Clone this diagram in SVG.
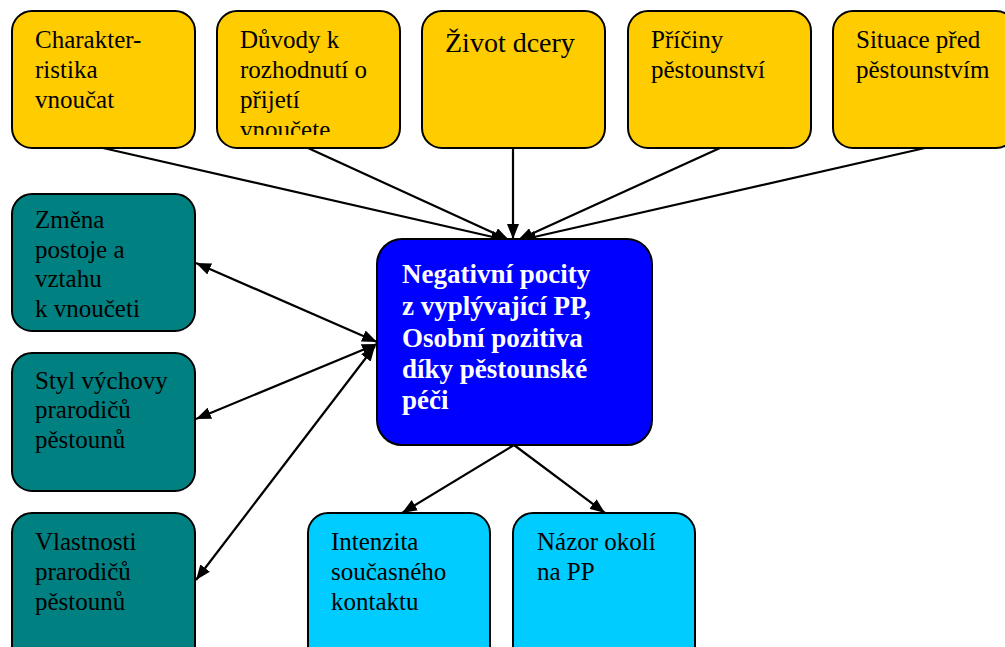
<svg xmlns="http://www.w3.org/2000/svg" width="1005" height="647" viewBox="0 0 1005 647">
<style>
.box{stroke:#000;stroke-width:2}
.y{fill:#FFCC00}
.t{fill:#008080}
.c{fill:#00CCFF}
.b{fill:#0000FF}
.tx{font-family:"Liberation Serif","Times New Roman",serif;font-size:25px;fill:#000}
.big{font-size:28px}
.ct{font-family:"Liberation Serif","Times New Roman",serif;font-size:27px;font-weight:bold;fill:#fff}
.ln{stroke:#000;stroke-width:2.2;fill:none}
</style>
<defs>
<marker id="ah" viewBox="0 0 15 12" refX="15" refY="6" markerWidth="15" markerHeight="12" markerUnits="userSpaceOnUse" orient="auto-start-reverse">
<path d="M0,0 L15,6 L0,12 Z" fill="#000"/>
</marker>
<clipPath id="clip2"><rect x="217" y="11" width="183" height="124"/></clipPath>
<clipPath id="clipL1"><rect x="12" y="194" width="183" height="123"/></clipPath>
</defs>
<g id="connectors">
<line class="ln" x1="103" y1="148" x2="506" y2="240" marker-end="url(#ah)"/>
<line class="ln" x1="308" y1="148" x2="509" y2="240" marker-end="url(#ah)"/>
<line class="ln" x1="513" y1="148" x2="513" y2="239" marker-end="url(#ah)"/>
<line class="ln" x1="720" y1="148" x2="518" y2="240" marker-end="url(#ah)"/>
<line class="ln" x1="925" y1="148" x2="521" y2="240" marker-end="url(#ah)"/>
<line class="ln" x1="196" y1="263" x2="377" y2="342" marker-start="url(#ah)" marker-end="url(#ah)"/>
<line class="ln" x1="196" y1="419" x2="377" y2="344" marker-start="url(#ah)" marker-end="url(#ah)"/>
<line class="ln" x1="196" y1="580" x2="375" y2="346" marker-start="url(#ah)" marker-end="url(#ah)"/>
<line class="ln" x1="514" y1="445" x2="402" y2="513" marker-end="url(#ah)"/>
<line class="ln" x1="514" y1="445" x2="605" y2="513" marker-end="url(#ah)"/>
</g>
<g id="n1"><rect class="box y" x="12" y="11" width="183" height="137" rx="20"/>
<text class="tx" x="35" y="48">Charakter-</text><text class="tx" x="35" y="78">ristika</text><text class="tx" x="35" y="108">vnoučat</text></g>
<g id="n2"><rect class="box y" x="217" y="11" width="183" height="137" rx="20"/>
<g clip-path="url(#clip2)"><text class="tx" x="240" y="48">Důvody k</text><text class="tx" x="240" y="78">rozhodnutí o</text><text class="tx" x="240" y="108">přijetí</text><text class="tx" x="240" y="138">vnoučete</text></g></g>
<g id="n3"><rect class="box y" x="422" y="11" width="183" height="137" rx="20"/>
<text class="tx big" x="445" y="52">Život dcery</text></g>
<g id="n4"><rect class="box y" x="628" y="11" width="183" height="137" rx="20"/>
<text class="tx" x="651" y="48">Příčiny</text><text class="tx" x="651" y="78">pěstounství</text></g>
<g id="n5"><rect class="box y" x="833" y="11" width="183" height="137" rx="20"/>
<text class="tx" x="856" y="48">Situace před</text><text class="tx" x="856" y="78">pěstounstvím</text></g>
<g id="n6"><rect class="box t" x="12" y="194" width="183" height="137" rx="20"/>
<g clip-path="url(#clipL1)"><text class="tx" x="35" y="228">Změna</text><text class="tx" x="35" y="258">postoje a</text><text class="tx" x="35" y="287">vztahu</text><text class="tx" x="35" y="317">k vnoučeti</text></g></g>
<g id="n7"><rect class="box t" x="12" y="353" width="183" height="138" rx="20"/>
<text class="tx" x="35" y="389">Styl výchovy</text><text class="tx" x="35" y="418">prarodičů</text><text class="tx" x="35" y="448">pěstounů</text></g>
<g id="n8"><rect class="box t" x="12" y="513" width="183" height="160" rx="20"/>
<text class="tx" x="35" y="550">Vlastnosti</text><text class="tx" x="35" y="580">prarodičů</text><text class="tx" x="35" y="610">pěstounů</text></g>
<g id="n9"><rect class="box b" x="377" y="239" width="275" height="206" rx="25"/>
<text class="ct" x="402" y="283">Negativní pocity</text><text class="ct" x="402" y="315">z vyplývající PP,</text><text class="ct" x="402" y="347">Osobní pozitiva</text><text class="ct" x="402" y="378">díky pěstounské</text><text class="ct" x="402" y="409">péči</text></g>
<g id="n10"><rect class="box c" x="308" y="513" width="182" height="160" rx="20"/>
<text class="tx" x="331" y="550">Intenzita</text><text class="tx" x="331" y="580">současného</text><text class="tx" x="331" y="610">kontaktu</text></g>
<g id="n11"><rect class="box c" x="513" y="513" width="182" height="160" rx="20"/>
<text class="tx" x="537" y="550">Názor okolí</text><text class="tx" x="537" y="580">na PP</text></g>
</svg>
